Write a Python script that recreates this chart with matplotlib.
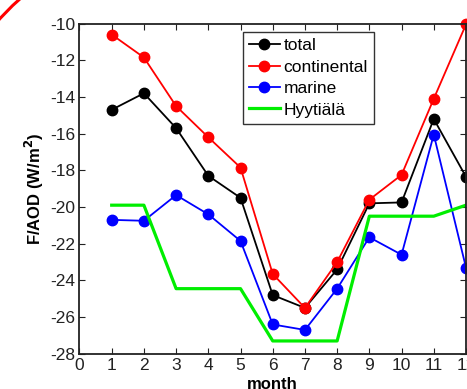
import numpy as np
import matplotlib.pyplot as plt
from matplotlib.patches import Arc

plt.rcParams['font.family'] = ['Liberation Sans', 'DejaVu Sans']
plt.rcParams['axes.unicode_minus'] = False

months = [1, 2, 3, 4, 5, 6, 7, 8, 9, 10, 11, 12]
total = [-14.7, -13.8, -15.7, -18.3, -19.5, -24.8, -25.5, -23.4, -19.8, -19.75, -15.2, -18.35]
continental = [-10.6, -11.85, -14.5, -16.2, -17.85, -23.65, -25.5, -23.0, -19.6, -18.25, -14.1, -10.05]
marine = [-20.7, -20.75, -19.35, -20.4, -21.85, -26.4, -26.7, -24.45, -21.65, -22.6, -16.05, -23.3]
hyytiala = [-19.9, -19.9, -24.45, -24.45, -24.45, -27.3, -27.3, -27.3, -20.5, -20.5, -20.5, -19.9]

fig = plt.figure(figsize=(4.67, 3.89), dpi=100)
ax = fig.add_axes([0.1702, 0.0905, 0.8276, 0.849])

ax.plot(months, total, '-o', color='black', lw=1.3, ms=7.5, label='total', clip_on=False)
ax.plot(months, continental, '-o', color='#ff0000', lw=1.3, ms=7.5, label='continental', clip_on=False)
ax.plot(months, marine, '-o', color='#0000ff', lw=1.3, ms=7.5, label='marine', clip_on=False)
ax.plot(months, hyytiala, '-', color='#00ee00', lw=2.3, label='Hyytiälä')

ax.set_xlim(0, 12)
ax.set_ylim(-28, -10)
ax.set_xticks(np.arange(0, 13, 1))
ax.set_yticks(np.arange(-28, -9, 2))
ax.tick_params(direction='in', top=True, right=True, length=4, width=0.8,
               labelsize=12.5, colors='#222222', pad=3)
for s in ax.spines.values():
    s.set_linewidth(1.3)
    s.set_color('#222222')

ax.set_xlabel('month', fontsize=12, fontweight='bold', labelpad=3)
ax.set_ylabel('F/AOD (W/m$^\\mathbf{2}$)', fontsize=12, fontweight='bold', labelpad=3)

leg = ax.legend(loc='upper left', bbox_to_anchor=(0.422, 0.974), borderaxespad=0,
                fancybox=False, fontsize=12.5, handlelength=1.8, handletextpad=0.2,
                labelspacing=0.36, borderpad=0.35)
leg.get_frame().set_edgecolor('black')
leg.get_frame().set_linewidth(1.0)

# red circle drawn round the figure, only its edge shows at the corner
arc = Arc((200 / 467, 189 / 389), 540 / 467, 540 / 389, theta1=120, theta2=150,
          transform=fig.transFigure, color='#ff0000', lw=2.2)
fig.add_artist(arc)

fig.savefig('out.png', dpi=100)
